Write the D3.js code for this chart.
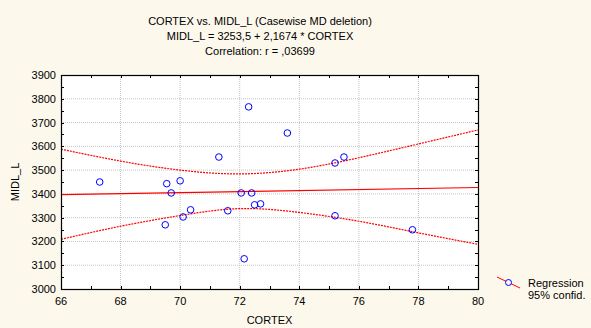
<!DOCTYPE html>
<html>
<head>
<meta charset="utf-8">
<script src="https://cdn.jsdelivr.net/npm/d3@7"></script>
<style>
  html, body { margin: 0; padding: 0; background: #fdf8ec; }
  svg { display: block; font-family: "Liberation Sans", Arial, sans-serif; }
</style>
</head>
<body>
<div id="chart"></div>
<script>
// data
const cortex = [67.3, 69.55, 69.7, 70.0, 69.5, 70.1, 70.35, 71.3, 71.6, 72.05, 72.15, 72.3, 72.4, 72.5, 72.7, 73.6, 75.2, 75.5, 75.2, 77.8];
const midl   = [3450, 3443, 3404, 3455, 3270, 3303, 3333, 3555, 3329, 3404, 3127, 3766, 3404, 3354, 3358, 3656, 3530, 3555, 3308, 3249];

const lineX = [66, 80];
const lineY = [3396.5, 3426.9];

const bandX     = [66, 68, 70, 72, 74, 76, 78, 80];
const bandUpper = [3588, 3538, 3500, 3484, 3504, 3552, 3610, 3669];
const bandLower = [3209, 3264, 3309, 3338, 3322, 3285, 3236, 3188];

const xTicks = [66, 68, 70, 72, 74, 76, 78, 80];
const yTicks = [3000, 3100, 3200, 3300, 3400, 3500, 3600, 3700, 3800, 3900];

const titleLines = [
  'CORTEX vs. MIDL_L (Casewise MD deletion)',
  'MIDL_L = 3253,5 + 2,1674 * CORTEX',
  'Correlation: r = ,03699'
];

const width = 591, height = 328;
const m = { left: 61, right: 478, top: 75, bottom: 289 };

const svg = d3.select('#chart').append('svg')
  .attr('width', width)
  .attr('height', height);

svg.append('rect').attr('width', width).attr('height', height).attr('fill', '#fdf8ec');

const x = d3.scaleLinear().domain([66, 80]).range([m.left, m.right]);
const y = d3.scaleLinear().domain([3000, 3900]).range([m.bottom, m.top]);

svg.append('rect')
  .attr('x', m.left).attr('y', m.top)
  .attr('width', m.right - m.left).attr('height', m.bottom - m.top)
  .attr('fill', '#fff');

// grid
svg.append('g').selectAll('line').data(xTicks.slice(1, -1)).enter().append('line')
  .attr('x1', d => x(d)).attr('x2', d => x(d))
  .attr('y1', m.top).attr('y2', m.bottom)
  .attr('stroke', '#c4c4c4').attr('stroke-dasharray', '1,1');
svg.append('g').selectAll('line').data(yTicks.slice(1, -1)).enter().append('line')
  .attr('y1', d => y(d)).attr('y2', d => y(d))
  .attr('x1', m.left).attr('x2', m.right)
  .attr('stroke', '#c4c4c4').attr('stroke-dasharray', '1,1');

// inward ticks on all four sides (majors + minors)
const xMinor = d3.range(66, 80.01, 1);
const yMinor = d3.range(3000, 3900.01, 50);
const tk = svg.append('g').attr('stroke', '#000').attr('stroke-width', 1);
xMinor.forEach(v => {
  const len = 3;
  tk.append('line').attr('x1', Math.round(x(v)) + 0.5).attr('x2', Math.round(x(v)) + 0.5)
    .attr('y1', m.bottom).attr('y2', m.bottom - len);
  tk.append('line').attr('x1', Math.round(x(v)) + 0.5).attr('x2', Math.round(x(v)) + 0.5)
    .attr('y1', m.top).attr('y2', m.top + len);
});
yMinor.forEach(v => {
  const len = 3;
  tk.append('line').attr('y1', Math.round(y(v)) + 0.5).attr('y2', Math.round(y(v)) + 0.5)
    .attr('x1', m.left).attr('x2', m.left + len);
  tk.append('line').attr('y1', Math.round(y(v)) + 0.5).attr('y2', Math.round(y(v)) + 0.5)
    .attr('x1', m.right).attr('x2', m.right - len);
});

// confidence bands
const band = d3.line().x(d => x(d[0])).y(d => y(d[1])).curve(d3.curveNatural);
[bandUpper, bandLower].forEach(arr => {
  svg.append('path')
    .attr('d', band(bandX.map((v, i) => [v, arr[i]])))
    .attr('fill', 'none').attr('stroke', '#ff0000')
    .attr('stroke-width', 1.2).attr('stroke-dasharray', '2,1');
});

// regression line
svg.append('path')
  .attr('d', d3.line().x(d => x(d[0])).y(d => y(d[1]))(lineX.map((v, i) => [v, lineY[i]])))
  .attr('fill', 'none').attr('stroke', '#ff0000').attr('stroke-width', 1.2);

// points
svg.append('g').selectAll('circle').data(cortex).enter().append('circle')
  .attr('cx', (d, i) => x(d)).attr('cy', (d, i) => y(midl[i]))
  .attr('r', 3.3).attr('fill', 'none').attr('stroke', '#0000ff').attr('stroke-width', 1);

// frame
svg.append('rect')
  .attr('x', m.left + 0.5).attr('y', m.top + 0.5)
  .attr('width', m.right - m.left).attr('height', m.bottom - m.top)
  .attr('fill', 'none').attr('stroke', '#000').attr('stroke-width', 1.2);

// tick labels
svg.append('g').selectAll('text').data(xTicks).enter().append('text')
  .attr('x', d => x(d)).attr('y', m.bottom + 16)
  .attr('text-anchor', 'middle').attr('font-size', 11).text(d => d);
svg.append('g').selectAll('text').data(yTicks).enter().append('text')
  .attr('x', m.left - 5).attr('y', d => y(d) + 4)
  .attr('text-anchor', 'end').attr('font-size', 11).text(d => d);

// axis titles
svg.append('text').attr('x', x(73)).attr('y', 324)
  .attr('text-anchor', 'middle').attr('font-size', 11).text('CORTEX');
svg.append('text').attr('transform', `translate(19,${y(3450)}) rotate(-90)`)
  .attr('text-anchor', 'middle').attr('font-size', 11).text('MIDL_L');

// title
svg.append('g').selectAll('text').data(titleLines).enter().append('text')
  .attr('x', 260).attr('y', (d, i) => 25 + i * 15)
  .attr('text-anchor', 'middle').attr('font-size', 11).text(d => d);

// legend
const lg = svg.append('g');
lg.append('line').attr('x1', 497).attr('x2', 520).attr('y1', 277).attr('y2', 288)
  .attr('stroke', '#ff0000').attr('stroke-width', 1);
lg.append('circle').attr('cx', 508.5).attr('cy', 282.5).attr('r', 3)
  .attr('fill', '#fdf8ec').attr('stroke', '#0000ff');
lg.append('text').attr('x', 528).attr('y', 287).attr('font-size', 11).text('Regression');
lg.append('text').attr('x', 528).attr('y', 299).attr('font-size', 11).text('95% confid.');
</script>
</body>
</html>
